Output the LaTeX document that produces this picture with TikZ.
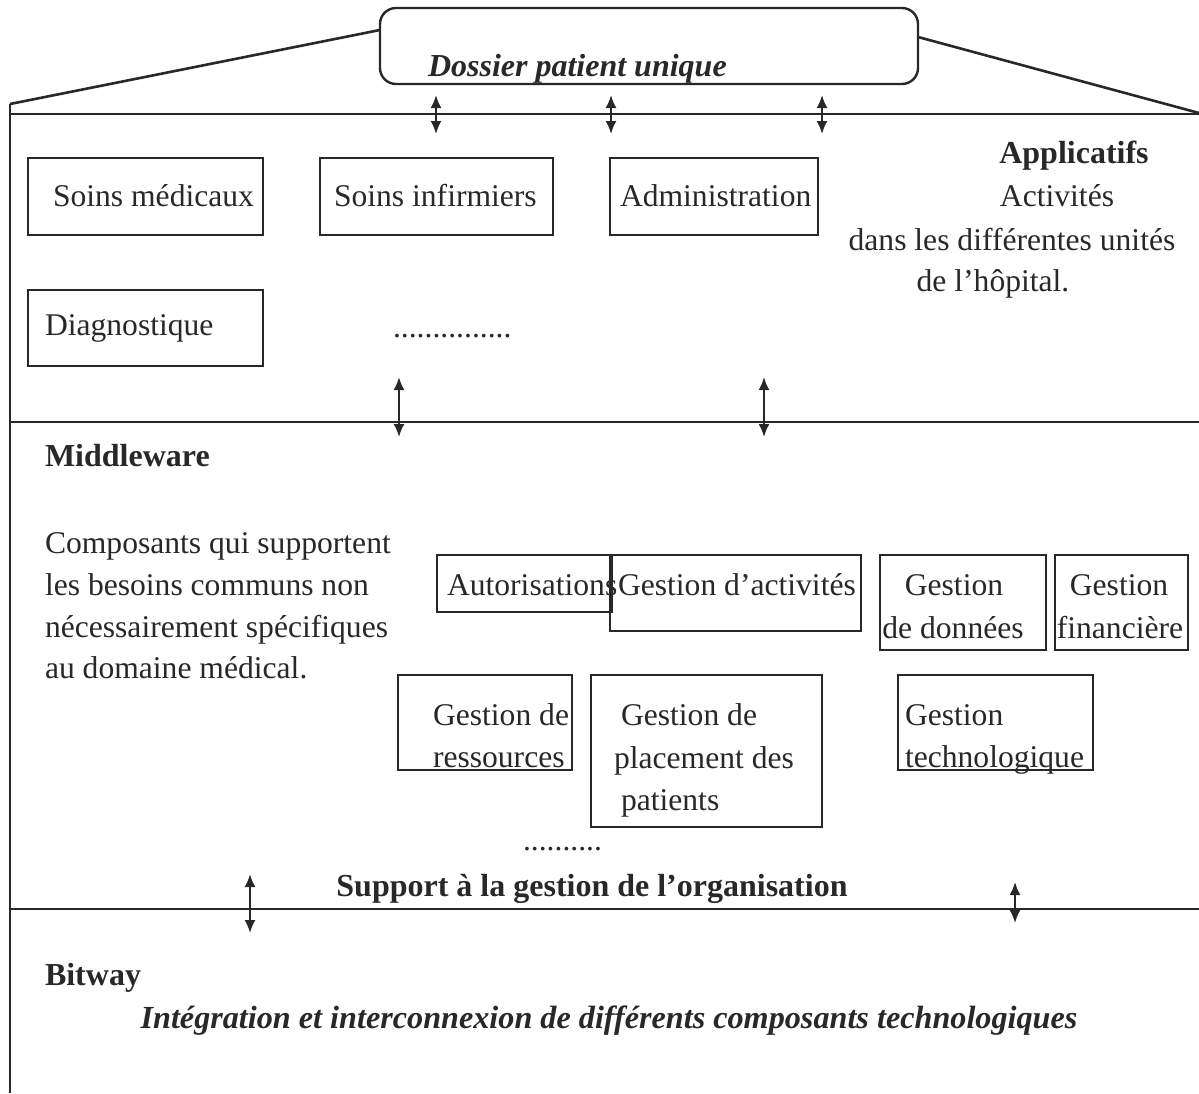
\documentclass[tikz,border=0pt]{standalone}
\usepackage{fontspec}
\setmainfont{Liberation Serif}
\usetikzlibrary{arrows.meta}
\definecolor{ink}{RGB}{40,40,40}
\begin{document}
\begin{tikzpicture}[x=1pt,y=-1pt,
  every node/.style={inner sep=0pt, outer sep=0pt, text=ink},
  frame/.style={draw=ink, line width=2.6pt},
  box/.style={draw=ink, line width=2.6pt},
  txt/.style={anchor=base west, font=\fontsize{31.6}{42}\selectfont},
  ctxt/.style={anchor=base, font=\fontsize{31.6}{42}\selectfont},
  btxt/.style={anchor=base west, font=\fontsize{32}{42}\selectfont\bfseries},
  cbtxt/.style={anchor=base, font=\fontsize{32}{42}\selectfont\bfseries},
  dbl/.style={draw=ink, line width=2pt, {Latex[length=13pt,width=11pt]}-{Latex[length=13pt,width=11pt]}}
]
\useasboundingbox (0,0) rectangle (1199,1093);

% ---- roof and frame ----
\node[box, line width=2.4pt, rounded corners=16pt, minimum width=538pt, minimum height=76pt] (dpu) at (649,46) {};
\node[anchor=base west, font=\fontsize{32}{42}\selectfont\bfseries\itshape] (dput) at (428,76) {Dossier patient unique};
\coordinate (tl) at (10,104);
\coordinate (bl) at (10,1093);
\coordinate (rl) at (380,30);
\coordinate (rr) at (918,37);
\coordinate (tr) at (1199,113);
\draw[frame] (tl) -- (rl);
\draw[frame] (rr) -- (tr);
\draw[frame] (tl) -- (bl);
\coordinate (h1a) at (10,114);  \coordinate (h1b) at (1199,114);
\coordinate (h2a) at (10,422);  \coordinate (h2b) at (1199,422);
\coordinate (h3a) at (10,909);  \coordinate (h3b) at (1199,909);
\draw[frame] (h1a) -- (h1b);
\draw[frame] (h2a) -- (h2b);
\draw[frame] (h3a) -- (h3b);

% ---- arrows ----
\coordinate (a1t) at (436,95);  \coordinate (a1b) at (436,134);
\coordinate (a2t) at (611,95);  \coordinate (a2b) at (611,134);
\coordinate (a3t) at (822,95);  \coordinate (a3b) at (822,134);
\coordinate (a4t) at (399,377); \coordinate (a4b) at (399,437);
\coordinate (a5t) at (764,377); \coordinate (a5b) at (764,437);
\coordinate (a6t) at (250,874); \coordinate (a6b) at (250,933);
\coordinate (a7t) at (1015,882); \coordinate (a7b) at (1015,923);
\draw[dbl] (a1t) -- (a1b);
\draw[dbl] (a2t) -- (a2b);
\draw[dbl] (a3t) -- (a3b);
\draw[dbl] (a4t) -- (a4b);
\draw[dbl] (a5t) -- (a5b);
\draw[dbl] (a6t) -- (a6b);
\draw[dbl] (a7t) -- (a7b);

% ---- Applicatifs ----
\node[box, minimum width=235pt, minimum height=77pt] (bsm) at (145.5,196.5) {};
\node[txt] (tsm) at (53,206) {Soins médicaux};
\node[box, minimum width=233pt, minimum height=77pt] (bsi) at (436.5,196.5) {};
\node[txt] (tsi) at (334,206) {Soins infirmiers};
\node[box, minimum width=208pt, minimum height=77pt] (bad) at (714,196.5) {};
\node[txt] (tad) at (620,206) {Administration};
\node[box, minimum width=235pt, minimum height=76pt] (bdi) at (145.5,328) {};
\node[txt] (tdi) at (45,335) {Diagnostique};
\node[txt] (dots1) at (393,337) {...............};

\node[cbtxt] (tapp) at (1074,163) {Applicatifs};
\node[ctxt] (tact1) at (1057,206) {Activités};
\node[ctxt] (tact2) at (1012,250) {dans les différentes unités};
\node[ctxt] (tact3) at (993,291) {de l’hôpital.};

% ---- Middleware ----
\node[btxt] (tmid) at (45,466) {Middleware};
\node[txt] (tc1) at (45,553) {Composants qui supportent};
\node[txt] (tc2) at (45,595) {les besoins communs non};
\node[txt] (tc3) at (45,637) {nécessairement spécifiques};
\node[txt] (tc4) at (45,678) {au domaine médical.};

\node[box, minimum width=175pt, minimum height=57pt] (bau) at (524.5,583.5) {};
\node[box, minimum width=251pt, minimum height=76pt] (bga) at (735.5,593) {};
\node[txt] (tau) at (447,595) {Autorisations};
\node[txt] (tga) at (618,595) {Gestion d’activités};

\node[box, minimum width=166pt, minimum height=95pt] (bgd) at (963,602.5) {};
\node[ctxt] (tgd1) at (954,595) {Gestion};
\node[ctxt] (tgd2) at (953,638) {de données};
\node[box, minimum width=133pt, minimum height=95pt] (bgf) at (1121.5,602.5) {};
\node[ctxt] (tgf1) at (1119,595) {Gestion};
\node[ctxt] (tgf2) at (1120,638) {financière};

\node[box, minimum width=174pt, minimum height=95pt] (bgr) at (485,722.5) {};
\node[txt] (tgr1) at (433,725) {Gestion de};
\node[txt] (tgr2) at (433,767) {ressources};
\node[box, minimum width=231pt, minimum height=152pt] (bgp) at (706.5,751) {};
\node[txt] (tgp1) at (621,725) {Gestion de};
\node[txt] (tgp2) at (614,768) {placement des};
\node[txt] (tgp3) at (621,810) {patients};
\node[box, minimum width=195pt, minimum height=95pt] (bgt) at (995.5,722.5) {};
\node[txt] (tgt1) at (905,725) {Gestion};
\node[txt] (tgt2) at (905,767) {technologique};

\node[txt] (dots2) at (523,850) {..........};
\node[cbtxt] (tsup) at (592,896) {Support à la gestion de l’organisation};

% ---- Bitway ----
\node[btxt] (tbit) at (45,985) {Bitway};
\node[anchor=base, font=\fontsize{32.2}{42}\selectfont\bfseries\itshape] (tint) at (609,1028) {Intégration et interconnexion de différents composants technologiques};
\end{tikzpicture}
\end{document}
